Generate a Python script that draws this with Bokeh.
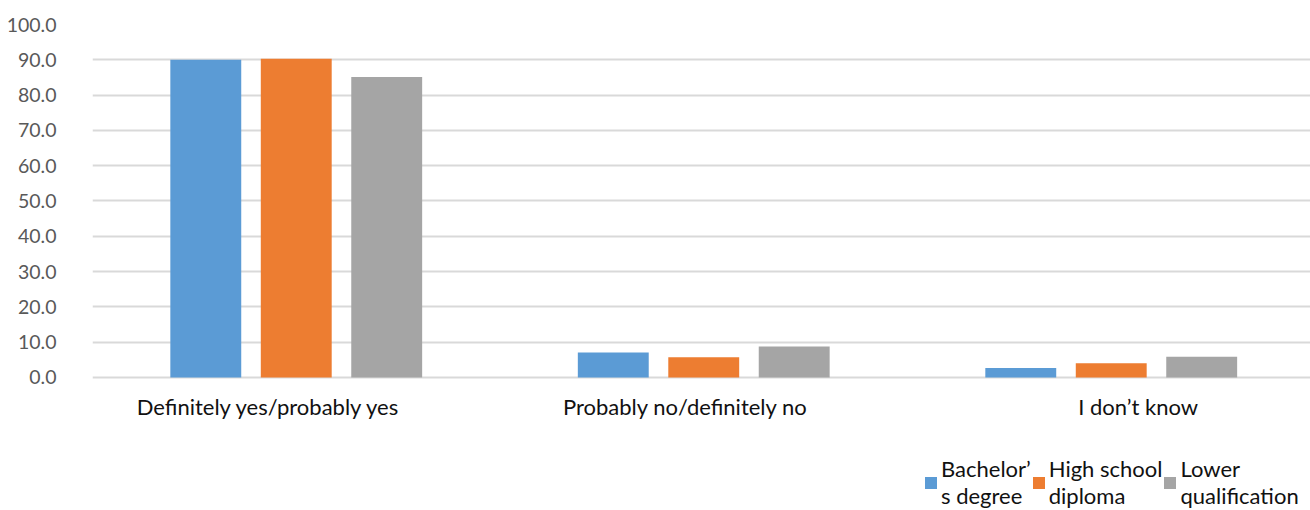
from bokeh.plotting import figure
from bokeh.models import Range1d, FixedTicker, Legend, LegendItem, ColumnDataSource
from bokeh.core.properties import value
from bokeh.embed import file_html
from bokeh.resources import INLINE

# Survey answers by educational attainment (percent)
categories = ["Definitely yes/probably yes", "Probably no/definitely no", "I don\u2019t know"]
series_names = ["Bachelor\u2019\ns degree", "High school\ndiploma", "Lower\nqualification"]
bachelor = [90.0, 7.1, 2.7]
high_school = [90.3, 5.7, 4.0]
lower = [85.1, 8.8, 5.9]
y_ticks = [0, 10, 20, 30, 40, 50, 60, 70, 80, 90, 100]

colors = ["#5B9BD5", "#ED7D31", "#A5A5A5"]
FONT = "Lato"

# the frame runs down to the page bottom so category names and legend sit inside it
Y_MIN = -37.68
p = figure(width=1310, height=510, output_backend="svg", toolbar_location=None,
           x_range=Range1d(0, 2.989), y_range=Range1d(Y_MIN, 100),
           x_axis_location=None,
           min_border_left=92, min_border_right=0, min_border_top=24, min_border_bottom=0)
p.outline_line_color = None
p.background_fill_color = "white"
p.border_fill_color = "white"

centers = [i + 0.5 for i in range(len(categories))]
offsets = [-0.222, 0.0, 0.222]
bar_w = 0.174

renderers = []
for vals, off, col in zip([bachelor, high_school, lower], offsets, colors):
    src = ColumnDataSource(dict(x=[c + off for c in centers], top=vals))
    r = p.vbar(x="x", top="top", bottom=0, width=bar_w, source=src,
               fill_color=col, line_color=None)
    renderers.append(r)

# category names below the baseline
label_shift = [-0.068, -0.045, 0.066]
p.text(x=[c + s for c, s in zip(centers, label_shift)], y=[-8.3] * len(categories),
       text=categories, text_align="center", text_baseline="middle",
       text_font=value(FONT), text_font_size="22px", text_color="#111111")

# y axis
p.yaxis.ticker = FixedTicker(ticks=y_ticks)
p.yaxis.major_label_overrides = {t: f"{t:.1f}" for t in y_ticks}
p.yaxis.axis_line_color = None
p.yaxis.major_tick_line_color = None
p.yaxis.minor_tick_line_color = None
p.yaxis.major_label_standoff = 30
p.yaxis.major_label_text_font = FONT
p.yaxis.major_label_text_font_size = "19.5px"
p.yaxis.major_label_text_color = "#595959"

p.xgrid.grid_line_color = None
p.ygrid.ticker = FixedTicker(ticks=y_ticks)
p.ygrid.grid_line_color = "#D9D9D9"
p.ygrid.grid_line_width = 2

legend = Legend(
    items=[LegendItem(label=n, renderers=[r]) for n, r in zip(series_names, renderers)],
    orientation="horizontal", location=(831, 1),
    padding=0, spacing=0, margin=0, label_standoff=3,
    glyph_width=15, glyph_height=15,
    label_text_font=FONT, label_text_font_size="22px", label_text_color="#111111",
    label_text_line_height=1.45, label_text_baseline="top",
    border_line_color=None, background_fill_alpha=0,
)
p.add_layout(legend, "center")

open("out.html", "w").write(file_html(p, INLINE))
